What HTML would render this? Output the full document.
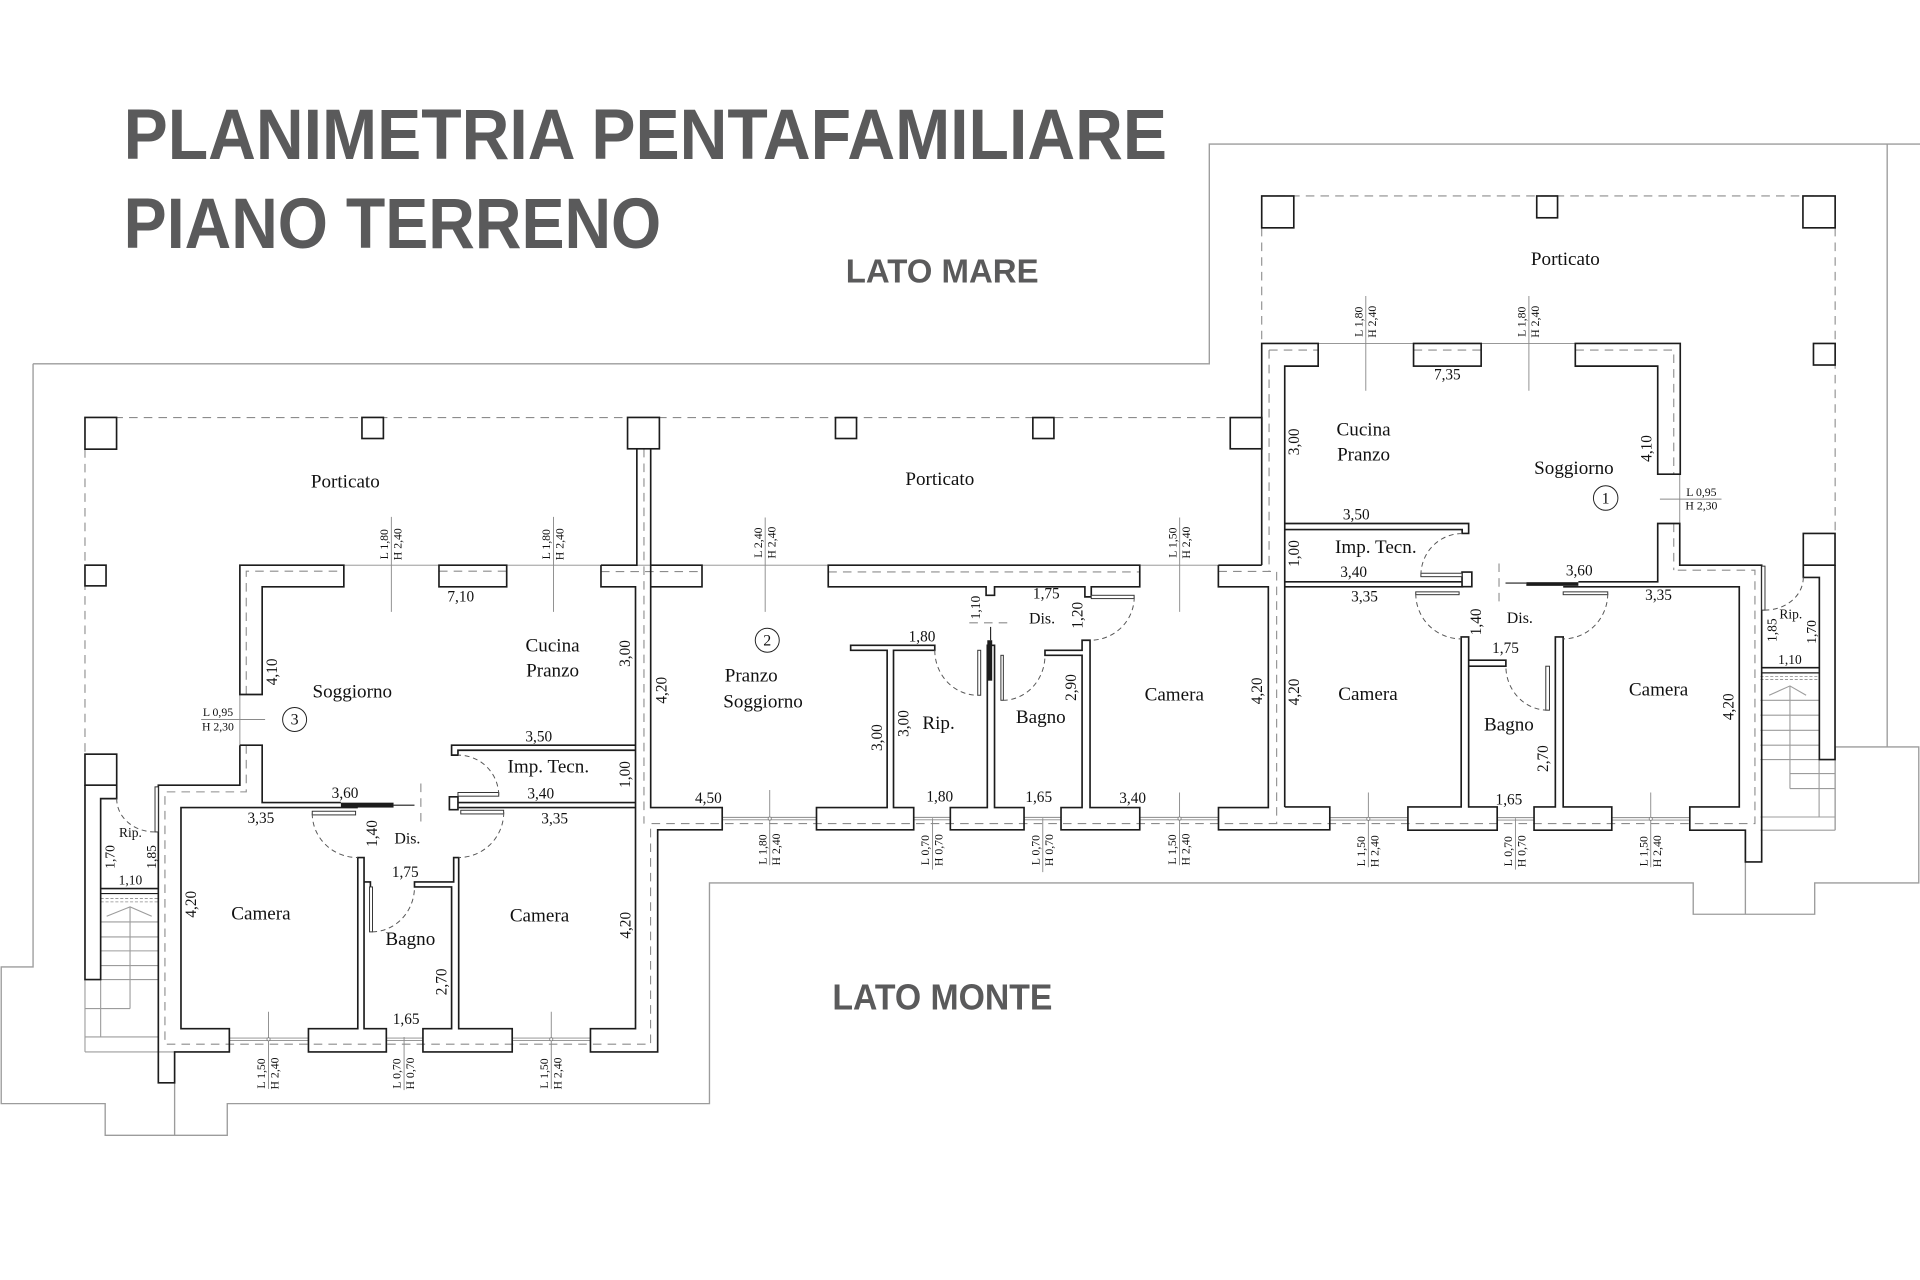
<!DOCTYPE html>
<html><head><meta charset="utf-8"><style>
html,body{margin:0;padding:0;background:#fff;}
svg{display:block;}
.w{stroke:#1c1c1c;stroke-width:1.35;fill:none;stroke-linejoin:miter}
.wf{stroke:#1c1c1c;stroke-width:1.35;fill:#fff}
.lf{stroke:#333;stroke-width:0.8;fill:#fff}
.g{stroke:#9c9c9c;stroke-width:1.1;fill:none}
.gt{stroke:#8a8a8a;stroke-width:0.75;fill:none}
.d{stroke:#8c8c8c;stroke-width:0.9;stroke-dasharray:7 5;fill:none}
.a{stroke:#555;stroke-width:0.8;stroke-dasharray:4 3;fill:none}
text{font-family:"Liberation Serif",serif;fill:#111;text-anchor:middle;dominant-baseline:central}
.r{font-size:15.6px}
.s{font-size:13px}
.n{font-size:12.5px}
.k{font-size:11px}
.m{font-size:9.6px}
.T{font-family:"Liberation Sans",sans-serif;font-weight:bold;fill:#5a5a5b;text-anchor:start;dominant-baseline:auto}
</style></head><body>
<svg width="1920" height="1280" viewBox="0 0 1568 1045" preserveAspectRatio="none" xmlns="http://www.w3.org/2000/svg">
<rect x="0" y="0" width="1568" height="1045" fill="#fff"/>

<!-- Titles -->
<text class="T" x="101" y="130" font-size="58" textLength="852" lengthAdjust="spacingAndGlyphs">PLANIMETRIA PENTAFAMILIARE</text>
<text class="T" x="101" y="202.3" font-size="58" textLength="439" lengthAdjust="spacingAndGlyphs">PIANO TERRENO</text>
<text class="T" x="690.7" y="230.6" font-size="27.4" textLength="157.5" lengthAdjust="spacingAndGlyphs">LATO MARE</text>
<text class="T" x="679.8" y="824.3" font-size="29.5" textLength="179.7" lengthAdjust="spacingAndGlyphs">LATO MONTE</text>

<!-- Site boundary -->
<path class="g" d="M27,297 H987.6 V117.6 H1568"/>
<path class="g" d="M27,297 V789.4 H1 V901 H85.9 V926.9 H185.6 V901 H579.4 V720.8 H1382.8 V746.4 H1482 V720.8 H1567 V609.8 H1498.7 V677.8"/>
<path class="g" d="M1541.2,117.6 V609.8"/>
<path class="g" d="M1425.4,677.8 V746.4"/>
<path class="g" d="M142.6,884 V926.9"/>

<!-- Dashed lines -->
<g class="d">
<path d="M69.4,340.9 H1030.5"/>
<path d="M69.4,366.7 V615.7"/>
<path d="M525.9,366.4 V672.4"/>
<path d="M201.1,567 V466.3 H280.8"/>
<path d="M358.5,466.3 H413.8"/>
<path d="M490.8,466.6 H573.3"/>
<path d="M201.1,608.4 V646.5 H134.7 V852.5 H531.3 V672.4 H1433.2 V465.5 H1366.9"/>
<path d="M676.4,466.9 H930.8"/>
<path d="M995,466.5 H1042.6 V672.4"/>
<path d="M1036.4,285.8 V466.5"/>
<path d="M1036.4,285.8 H1076.5"/>
<path d="M1154.4,285.8 H1209.6"/>
<path d="M1286.5,285.8 H1366.9 V387.1"/>
<path d="M1366.9,427.4 V465.5"/>
<path d="M1030.4,160 H1498.7"/>
<path d="M1030.4,186 V280.4"/>
<path d="M1498.7,186 V435.5"/>
<path d="M343.7,639.7 V675"/>
<path d="M1224.2,460 V495.4"/>
<path d="M791.6,508.5 H826"/>
</g>
<g class="d" style="stroke-dasharray:2.5 1.5;stroke-width:0.7">
<path d="M82.2,733.6 H129.3 M82.2,736.3 H129.3"/>
<path d="M1437.7,552.2 H1485.6 M1437.7,554.8 H1485.6"/>
</g>

<!-- Thin facade / window lines -->
<g class="gt">
<path d="M195.9,461.4 H1030.4"/>
<path d="M1030.4,280.4 H1372.2"/>
<path d="M195.9,567 V608.4"/>
<path d="M1371.8,387.1 V427.4"/>
<path d="M319.6,422 V499.5 M452,422 V499.5 M624.9,422.5 V499.5 M963.4,422.5 V499.5 M1115.4,241.7 V319 M1248.6,241.7 V319"/>
<path d="M164.3,587.4 H216.5 M1355.6,407.5 H1405.9"/>
<path d="M219.3,826 V889 M330,846.6 V890 M450.2,826 V889"/>
<path d="M628.6,645 V706.4 M761.6,668 V710 M851.6,668 V712 M963.3,647 V706.4"/>
<path d="M1117.5,647 V708 M1237.6,668 V710 M1348.1,647 V708"/>
<path d="M187.3,847.5 H251.9 M187.3,849.5 H251.9 M315.5,847.5 H345.4 M315.5,849.5 H345.4 M418.3,847.5 H482.2 M418.3,849.5 H482.2"/>
<path d="M589.8,667.3 H666.8 M589.8,669.3 H666.8 M746.2,667.3 H776.1 M746.2,669.3 H776.1 M836.3,667.3 H866.5 M836.3,669.3 H866.5 M930.8,667.3 H995.1 M930.8,669.3 H995.1"/>
<path d="M1086,667.5 H1149.8 M1086,669.5 H1149.8 M1222.7,667.5 H1252.8 M1222.7,669.5 H1252.8 M1316.3,667.5 H1380 M1316.3,669.5 H1380"/>
</g>

<!-- Stairs (grey) -->
<g class="g" style="stroke-width:0.9">
<path d="M87.1,748 L106.2,740.4 L123.9,748"/>
<path d="M82.2,752.7 H129.3 M82.2,764.9 H129.3 M82.2,776.3 H129.3 M82.2,788.3 H129.3 M69.4,799.7 H129.3 M69.4,823.4 H106.2 M106.2,740.4 V823.4 M82.2,799.7 V846.6 M69.4,799.7 V858.8 M69.4,846.6 H129.3 M69.4,858.8 H142.6"/>
<path d="M1444.8,567.6 L1461.8,560 L1475,567.6"/>
<path d="M1437.7,571.7 H1485.6 M1437.7,583.9 H1485.6 M1437.7,596.2 H1485.6 M1437.7,608.4 H1485.6 M1437.7,620.1 H1498.7 M1461.8,631.5 H1498.7 M1461.8,643.8 H1498.7 M1461.8,560 V643.8 M1485.6,620.1 V667 M1437.7,667 H1498.7 M1437.7,677.8 H1498.7"/>
</g>

<!-- Pillars -->
<g class="wf">
<rect x="69.4" y="340.8" width="25.8" height="25.9"/>
<rect x="295.6" y="340.8" width="17.5" height="17.2"/>
<rect x="512.5" y="340.8" width="26" height="25.6"/>
<rect x="69.4" y="461.4" width="17.2" height="16.9"/>
<rect x="682.3" y="340.9" width="17.2" height="17.1"/>
<rect x="843.5" y="340.9" width="17.2" height="17.1"/>
<rect x="1004.7" y="340.9" width="25.8" height="25.5"/>
<rect x="69.4" y="615.7" width="25.9" height="25.3"/>
<rect x="1030.4" y="160" width="26.2" height="26"/>
<rect x="1255" y="160" width="17" height="17.8"/>
<rect x="1472.4" y="160" width="26.3" height="26"/>
<rect x="1481" y="280.4" width="17.7" height="17.6"/>
<rect x="1472.7" y="435.5" width="25.9" height="25.9"/>
</g>

<!-- Walls: unit 3 -->
<g class="w">
<path d="M195.9,567 V461.4 H280.8 V479.1 H214.1 V567 Z"/>
<path d="M358.5,461.4 H413.8 V479.1 H358.5 Z"/>
<path d="M490.8,461.4 H520.1 V366.4"/>
<path d="M531.4,366.4 V461.4"/>
<path d="M490.8,461.4 V479.1 H519 V839.8 H482.2 V858.8 H537.1 V677.5 H589.8 V659.3 H531.4 V461.4"/>
<path d="M195.9,608.4 V641 H129.3 V884 H142.6 V858.8 H187.3 V839.8 H147.8 V659.3 H292.2"/>
<path d="M195.9,608.4 H214.1 V655.2 H278.4"/>
<path d="M292.2,700.1 V839.8 H251.9 V858.8 H315.5 V839.8 H297.3 V700.1 Z"/>
<path d="M297.3,720 H302.5 V724.1"/>
<path d="M345.4,839.8 V858.8 H418.3 V839.8 H374.6 V700.1 H370.5 V720 H338.5 V724.1 H368.8 V839.8 Z"/>
<path d="M374.6,659.3 H519"/>
<path d="M519,608.4 H368.8 V616.5 H374 V612.5 H519"/>
<path d="M374,655.2 H519"/>
<path d="M367,650.5 H374 V661 H367 Z"/>
<path d="M321.4,657.4 H338.5" style="stroke-width:0.9"/>
<path d="M69.4,641 V799.7 H82.2 V652 H95.3 V641"/>
<path d="M82.2,725.4 H129.3"/>
<path d="M82.2,729.5 H129.3" style="stroke-width:1"/>
</g>
<rect x="278.4" y="655.3" width="43" height="4" fill="#1c1c1c"/>

<!-- Walls: unit 2 -->
<g class="w">
<path d="M531.4,461.4 H573.3 V479.1 H531.4"/>
<path d="M676.4,461.4 H930.8 V479.1 H891.2 V487.3 H886 V479.1 H812.2 V486 H805.3 V479.1 H676.4 Z"/>
<path d="M666.8,677.5 H746.2 V659.3 H729.7 V530.9 H763.4 V526.8 H694.7 V530.9 H724.5 V659.3 H666.8 Z"/>
<path d="M776.1,677.5 V659.3 H806.3 V526.8 H812.2 V659.3 H836.3 V677.5 Z"/>
<path d="M866.5,677.5 V659.3 H883.7 V535 H853.4 V530.9 H883.7 V522.7 H890.2 V659.3 H930.8 V677.5 Z"/>
<path d="M995,461.4 H1030.4"/>
<path d="M995,461.4 V479.1 H1035.8 V659.3 H995.1 V677.5 H1086 V658.8 H1049.2"/>
<path d="M809,511.8 V522.7" style="stroke-width:0.9"/>
</g>
<rect x="806.3" y="522.7" width="4" height="33" fill="#1c1c1c"/>

<!-- Walls: unit 1 -->
<g class="w">
<path d="M1030.4,461.4 V280.4 H1076.5 V298.9 H1049.2 V658.8"/>
<rect x="1154.4" y="280.4" width="55.2" height="18.5"/>
<path d="M1286.5,280.4 H1372.2 V387.1 H1353.8 V298.9 H1286.5 Z"/>
<path d="M1049.2,427.4 H1199.4 V435.5 H1194.1 V432.3 H1049.2"/>
<path d="M1049.2,475 H1194"/>
<path d="M1049.2,479.1 H1195.1"/>
<path d="M1194,467 H1202 V479 H1194 Z"/>
<path d="M1193.3,520 V658.8 H1149.8 V677.8 H1222.7 V658.8 H1199.4 V520 Z"/>
<path d="M1199.4,539 H1229.8 V543.9 H1199.4"/>
<path d="M1252.8,677.8 V658.8 H1270.2 V520 H1276.6 V658.8 H1316.3 V677.8 Z"/>
<path d="M1276.6,479.1 H1420.4 V658.8 H1380 V677.8 H1425.4 V703.7 H1438.7 V461.4 H1371.8 V427.4 H1353.8 V475 H1289"/>
<path d="M1229.5,476 H1246.5" style="stroke-width:0.9"/>
<path d="M1472.7,461.4 V471.4 H1485.8 V620.1 H1498.6 V461.4"/>
<path d="M1438.7,545.1 H1485.8"/>
<path d="M1438.7,549.3 H1485.8" style="stroke-width:1"/>
</g>
<rect x="1246.5" y="475.3" width="42.5" height="3" fill="#1c1c1c"/>

<!-- Door leaves -->
<g class="lf">
<rect x="255" y="662.3" width="35.4" height="3"/>
<rect x="376.3" y="661.5" width="35" height="3"/>
<rect x="374" y="647" width="33.3" height="3"/>
<rect x="301.8" y="724.1" width="2.4" height="36.7"/>
<rect x="126.6" y="642.4" width="2.7" height="36.8"/>
<rect x="798.5" y="530.9" width="2.4" height="36.7"/>
<rect x="817.4" y="535" width="2" height="36.7"/>
<rect x="891.2" y="486" width="35" height="2.7"/>
<rect x="1160.4" y="468" width="33.6" height="2.8"/>
<rect x="1156.2" y="483.2" width="35.4" height="2.3"/>
<rect x="1276.6" y="483.2" width="36.4" height="2.3"/>
<rect x="1262.4" y="543.9" width="3" height="35.9"/>
<rect x="1438.7" y="462.2" width="2.7" height="35.9"/>
</g>

<!-- Door arcs -->
<g class="a">
<path d="M255,664 A37,36 0 0 0 292.2,700.1"/>
<path d="M411.4,663 A37,37 0 0 1 374.6,700.1"/>
<path d="M407.3,649 A33,33 0 0 0 374,616.5"/>
<path d="M304,760.8 A35,36.7 0 0 0 338.5,724.1"/>
<path d="M95.3,652 A31,27 0 0 0 126.6,679.2"/>
<path d="M763.4,530.9 A35,36.7 0 0 0 798.5,567.6"/>
<path d="M819,571.7 A34.4,36.7 0 0 0 853.4,535"/>
<path d="M926.3,487.3 A36,35.4 0 0 1 890.2,522.7"/>
<path d="M1160.4,469.6 A33.6,34 0 0 1 1194,435.6"/>
<path d="M1156.2,484.6 A37,37 0 0 0 1193.3,521.6"/>
<path d="M1313,484.6 A36.4,37 0 0 1 1276.6,521.6"/>
<path d="M1264,579.8 A34.2,35.9 0 0 1 1229.8,543.9"/>
<path d="M1472.7,471.4 A31.3,26.7 0 0 1 1441.4,498.1"/>
</g>

<!-- marker dots -->
<g fill="#fff" stroke="#777" stroke-width="0.6">
<circle cx="219.3" cy="848.5" r="1.3"/><circle cx="450.2" cy="848.5" r="1.3"/>
<circle cx="628.6" cy="668.3" r="1.3"/><circle cx="963.3" cy="668.3" r="1.3"/>
<circle cx="1117.5" cy="668.5" r="1.3"/><circle cx="1348.1" cy="668.5" r="1.3"/>
</g>

<!-- Unit number circles -->
<g fill="none" stroke="#222" stroke-width="0.8">
<circle cx="240.6" cy="587.4" r="9.8"/>
<circle cx="626.6" cy="522.7" r="9.8"/>
<circle cx="1311.3" cy="406.6" r="10"/>
</g>
<text class="s" x="240.6" y="588">3</text>
<text class="s" x="626.6" y="523.3">2</text>
<text class="s" x="1311.3" y="407.2">1</text>

<!-- Room labels -->
<text class="r" x="282" y="393.4">Porticato</text>
<text class="r" x="767.5" y="391.5">Porticato</text>
<text class="r" x="1278.4" y="211.8">Porticato</text>
<text class="r" x="287.7" y="564.8">Soggiorno</text>
<text class="r" x="451.3" y="527.3">Cucina</text>
<text class="r" x="451.3" y="547.7">Pranzo</text>
<text class="r" x="447.8" y="626">Imp. Tecn.</text>
<text class="s" x="332.7" y="685.1">Dis.</text>
<text class="r" x="213.1" y="746.4">Camera</text>
<text class="r" x="440.6" y="748">Camera</text>
<text class="r" x="335.1" y="767.1">Bagno</text>
<text class="k" x="106.5" y="679.7">Rip.</text>
<text class="r" x="613.5" y="552">Pranzo</text>
<text class="r" x="623.2" y="573">Soggiorno</text>
<text class="r" x="766.5" y="590.7">Rip.</text>
<text class="s" x="851" y="505.5">Dis.</text>
<text class="r" x="850" y="585.8">Bagno</text>
<text class="r" x="959" y="567.6">Camera</text>
<text class="r" x="1113.6" y="351.2">Cucina</text>
<text class="r" x="1113.6" y="371.6">Pranzo</text>
<text class="r" x="1285.4" y="382.5">Soggiorno</text>
<text class="r" x="1123.6" y="447">Imp. Tecn.</text>
<text class="s" x="1241.2" y="505">Dis.</text>
<text class="r" x="1117.2" y="566.8">Camera</text>
<text class="r" x="1232.3" y="592">Bagno</text>
<text class="r" x="1354.5" y="563.5">Camera</text>
<text class="k" x="1462.5" y="501.4">Rip.</text>

<!-- Dimensions horizontal -->
<text class="n" x="376.3" y="487.3">7,10</text>
<text class="n" x="440" y="601.6">3,50</text>
<text class="n" x="281.8" y="647.9">3,60</text>
<text class="n" x="441.6" y="648.4">3,40</text>
<text class="n" x="213.1" y="668.3">3,35</text>
<text class="n" x="453" y="668.8">3,35</text>
<text class="n" x="331" y="712.4">1,75</text>
<text class="n" x="331.7" y="832.4">1,65</text>
<text class="k" x="106.5" y="718.6">1,10</text>
<text class="n" x="753" y="520">1,80</text>
<text class="n" x="854.5" y="485">1,75</text>
<text class="n" x="578.5" y="652">4,50</text>
<text class="n" x="767.5" y="650.6">1,80</text>
<text class="n" x="848.3" y="651">1,65</text>
<text class="n" x="925" y="652">3,40</text>
<text class="n" x="1182" y="306.2">7,35</text>
<text class="n" x="1107.6" y="420.6">3,50</text>
<text class="n" x="1105.5" y="467.4">3,40</text>
<text class="n" x="1289.7" y="466.3">3,60</text>
<text class="n" x="1114.4" y="487.3">3,35</text>
<text class="n" x="1354.5" y="486">3,35</text>
<text class="n" x="1229.5" y="529.5">1,75</text>
<text class="n" x="1232.3" y="653.3">1,65</text>
<text class="k" x="1461.8" y="538.4">1,10</text>

<!-- Dimensions rotated -->
<g>
<text class="n" transform="translate(511 533.5) rotate(-90)">3,00</text>
<text class="n" transform="translate(222.4 548.5) rotate(-90)">4,10</text>
<text class="n" transform="translate(511 632.3) rotate(-90)">1,00</text>
<text class="n" transform="translate(304.2 680.5) rotate(-90)">1,40</text>
<text class="n" transform="translate(156.4 738.2) rotate(-90)">4,20</text>
<text class="n" transform="translate(511.4 755.4) rotate(-90)">4,20</text>
<text class="n" transform="translate(360.9 801.6) rotate(-90)">2,70</text>
<text class="k" transform="translate(90 699.6) rotate(-90)">1,70</text>
<text class="k" transform="translate(123.7 699.6) rotate(-90)">1,85</text>
<text class="n" transform="translate(540.7 563.5) rotate(-90)">4,20</text>
<text class="n" transform="translate(716.6 602.2) rotate(-90)">3,00</text>
<text class="n" transform="translate(738.3 590.7) rotate(-90)">3,00</text>
<text class="k" transform="translate(796.7 496) rotate(-90)">1,10</text>
<text class="n" transform="translate(880.3 502.3) rotate(-90)">1,20</text>
<text class="n" transform="translate(875.1 561.3) rotate(-90)">2,90</text>
<text class="n" transform="translate(1027 564) rotate(-90)">4,20</text>
<text class="n" transform="translate(1057 360.7) rotate(-90)">3,00</text>
<text class="n" transform="translate(1344.9 366.1) rotate(-90)">4,10</text>
<text class="n" transform="translate(1057 451.9) rotate(-90)">1,00</text>
<text class="n" transform="translate(1205.7 507.7) rotate(-90)">1,40</text>
<text class="n" transform="translate(1057 564.9) rotate(-90)">4,20</text>
<text class="n" transform="translate(1260.6 619.3) rotate(-90)">2,70</text>
<text class="n" transform="translate(1411.9 577) rotate(-90)">4,20</text>
<text class="k" transform="translate(1447.3 514.5) rotate(-90)">1,85</text>
<text class="k" transform="translate(1479.5 515.9) rotate(-90)">1,70</text>
</g>

<!-- Window marker texts -->
<g>
<text class="m" x="178" y="581.7">L 0,95</text>
<text class="m" x="178" y="593.4">H 2,30</text>
<text class="m" x="1389.5" y="402">L 0,95</text>
<text class="m" x="1389.5" y="413.2">H 2,30</text>

<text class="m" transform="translate(314 444.3) rotate(-90)">L 1,80</text>
<text class="m" transform="translate(325 444.3) rotate(-90)">H 2,40</text>
<text class="m" transform="translate(446.4 444.3) rotate(-90)">L 1,80</text>
<text class="m" transform="translate(457.4 444.3) rotate(-90)">H 2,40</text>
<text class="m" transform="translate(619.3 443) rotate(-90)">L 2,40</text>
<text class="m" transform="translate(630.3 443) rotate(-90)">H 2,40</text>
<text class="m" transform="translate(957.8 443) rotate(-90)">L 1,50</text>
<text class="m" transform="translate(968.8 443) rotate(-90)">H 2,40</text>
<text class="m" transform="translate(1109.8 262.7) rotate(-90)">L 1,80</text>
<text class="m" transform="translate(1120.8 262.7) rotate(-90)">H 2,40</text>
<text class="m" transform="translate(1243 262.7) rotate(-90)">L 1,80</text>
<text class="m" transform="translate(1254 262.7) rotate(-90)">H 2,40</text>

<text class="m" transform="translate(213.7 876.4) rotate(-90)">L 1,50</text>
<text class="m" transform="translate(224.7 876.4) rotate(-90)">H 2,40</text>
<text class="m" transform="translate(324.4 876.4) rotate(-90)">L 0,70</text>
<text class="m" transform="translate(335.4 876.4) rotate(-90)">H 0,70</text>
<text class="m" transform="translate(444.6 876.4) rotate(-90)">L 1,50</text>
<text class="m" transform="translate(455.6 876.4) rotate(-90)">H 2,40</text>

<text class="m" transform="translate(623 693.5) rotate(-90)">L 1,80</text>
<text class="m" transform="translate(634 693.5) rotate(-90)">H 2,40</text>
<text class="m" transform="translate(756 694) rotate(-90)">L 0,70</text>
<text class="m" transform="translate(767 694) rotate(-90)">H 0,70</text>
<text class="m" transform="translate(846 694) rotate(-90)">L 0,70</text>
<text class="m" transform="translate(857 694) rotate(-90)">H 0,70</text>
<text class="m" transform="translate(957.7 693.5) rotate(-90)">L 1,50</text>
<text class="m" transform="translate(968.7 693.5) rotate(-90)">H 2,40</text>

<text class="m" transform="translate(1111.9 695) rotate(-90)">L 1,50</text>
<text class="m" transform="translate(1122.9 695) rotate(-90)">H 2,40</text>
<text class="m" transform="translate(1232 695) rotate(-90)">L 0,70</text>
<text class="m" transform="translate(1243 695) rotate(-90)">H 0,70</text>
<text class="m" transform="translate(1342.5 695) rotate(-90)">L 1,50</text>
<text class="m" transform="translate(1353.5 695) rotate(-90)">H 2,40</text>
</g>
</svg>
</body></html>
